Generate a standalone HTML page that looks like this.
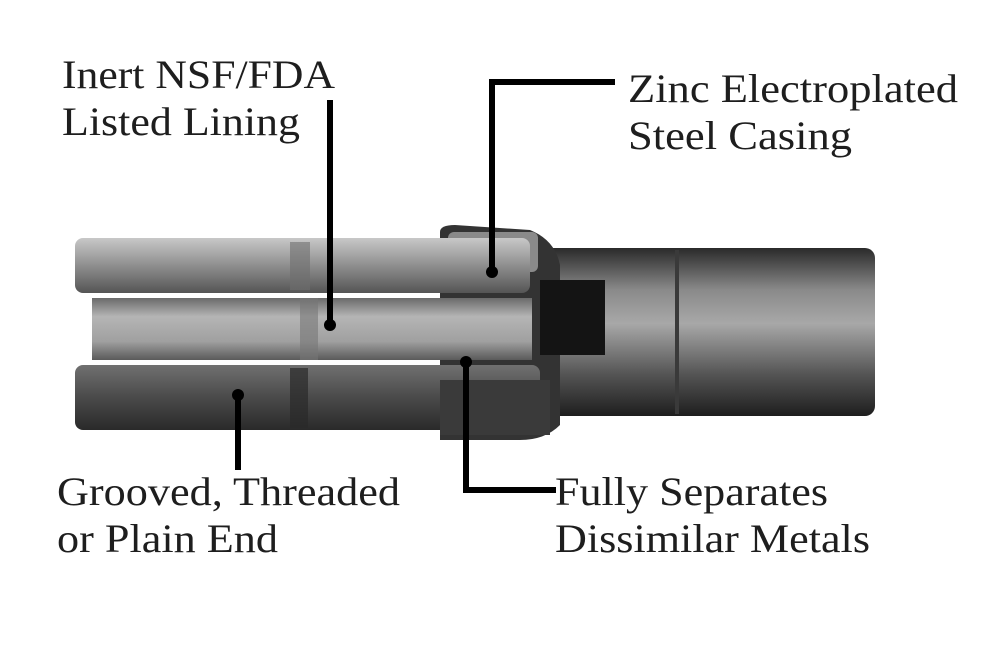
<!DOCTYPE html>
<html><head><meta charset="utf-8"><style>
html,body{margin:0;padding:0;background:#fff;}
svg{display:block;}
text{font-family:"Liberation Serif",serif;font-size:40px;fill:#1e1e1e;}
</style></head><body>
<svg width="1000" height="667" viewBox="0 0 1000 667" xmlns="http://www.w3.org/2000/svg">
<defs>
<linearGradient id="gTop" x1="0" y1="0" x2="0" y2="1">
<stop offset="0" stop-color="#c8c8c8"/><stop offset="0.4" stop-color="#9a9a9a"/><stop offset="1" stop-color="#555"/></linearGradient>
<linearGradient id="gIn" x1="0" y1="0" x2="0" y2="1">
<stop offset="0" stop-color="#6a6a6a"/><stop offset="0.3" stop-color="#b5b5b5"/><stop offset="0.7" stop-color="#a0a0a0"/><stop offset="1" stop-color="#5a5a5a"/></linearGradient>
<linearGradient id="gBot" x1="0" y1="0" x2="0" y2="1">
<stop offset="0" stop-color="#707070"/><stop offset="0.5" stop-color="#4a4a4a"/><stop offset="1" stop-color="#2a2a2a"/></linearGradient>
<linearGradient id="gCyl" x1="0" y1="0" x2="0" y2="1">
<stop offset="0" stop-color="#2a2a2a"/><stop offset="0.25" stop-color="#8a8a8a"/><stop offset="0.45" stop-color="#a8a8a8"/><stop offset="0.75" stop-color="#555"/><stop offset="1" stop-color="#1e1e1e"/></linearGradient>
</defs>
<rect x="540" y="248" width="335" height="168" rx="10" fill="url(#gCyl)"/>
<rect x="675" y="250" width="4" height="164" fill="#3a3a3a"/>
<path d="M440 232 Q440 225 455 225 L530 230 Q555 240 560 265 L560 425 Q545 440 520 440 L440 440 Z" fill="#333"/>
<rect x="448" y="232" width="90" height="40" rx="6" fill="#8a8a8a"/>
<rect x="540" y="280" width="65" height="75" fill="#141414"/>
<rect x="75" y="238" width="455" height="55" rx="8" fill="url(#gTop)"/>
<rect x="290" y="242" width="20" height="48" fill="#6e6e6e" opacity="0.6"/>
<rect x="92" y="298" width="440" height="62" fill="url(#gIn)"/>
<rect x="300" y="298" width="18" height="62" fill="#777" opacity="0.6"/>
<rect x="75" y="365" width="465" height="65" rx="8" fill="url(#gBot)"/>
<rect x="290" y="368" width="18" height="60" fill="#2a2a2a" opacity="0.7"/>
<rect x="440" y="380" width="110" height="55" fill="#3a3a3a"/>
<g stroke="#000" stroke-width="6" fill="none">
<line x1="330" y1="100" x2="330" y2="325"/>
<polyline points="615,82 492,82 492,272"/>
<line x1="238" y1="393" x2="238" y2="470"/>
<polyline points="466,360 466,490 556,490"/>
</g>
<circle cx="330" cy="325" r="6" fill="#000"/>
<circle cx="492" cy="272" r="6" fill="#000"/>
<circle cx="238" cy="395" r="6" fill="#000"/>
<circle cx="466" cy="362" r="6" fill="#000"/>
<text x="62" y="88" textLength="273" lengthAdjust="spacingAndGlyphs">Inert NSF/FDA</text>
<text x="62" y="135" textLength="238" lengthAdjust="spacingAndGlyphs">Listed Lining</text>
<text x="628" y="102" textLength="330" lengthAdjust="spacingAndGlyphs">Zinc Electroplated</text>
<text x="628" y="149" textLength="224" lengthAdjust="spacingAndGlyphs">Steel Casing</text>
<text x="57" y="505" textLength="343" lengthAdjust="spacingAndGlyphs">Grooved, Threaded</text>
<text x="57" y="552" textLength="221" lengthAdjust="spacingAndGlyphs">or Plain End</text>
<text x="555" y="505" textLength="273" lengthAdjust="spacingAndGlyphs">Fully Separates</text>
<text x="555" y="552" textLength="315" lengthAdjust="spacingAndGlyphs">Dissimilar Metals</text>
</svg>
</body></html>
